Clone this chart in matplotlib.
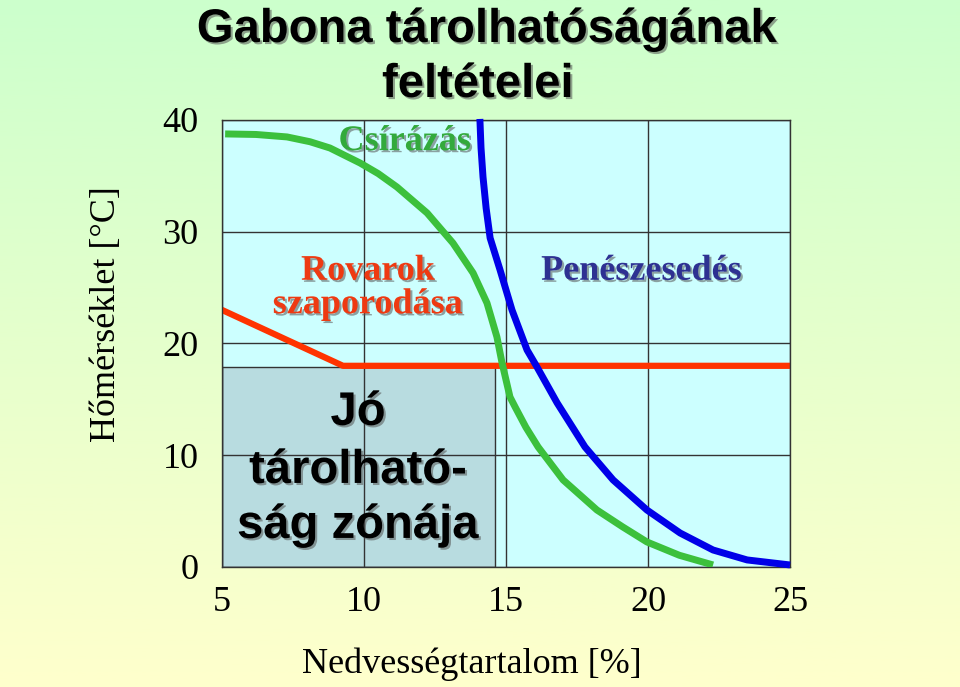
import numpy as np
import matplotlib.pyplot as plt
import matplotlib.patheffects as pe
from matplotlib.colors import LinearSegmentedColormap
from matplotlib.patches import Rectangle

plt.rcParams['font.family'] = ['Liberation Serif', 'DejaVu Serif']

# Rovarok szaporodása (alsó határ)
rovar_x = [5.0, 9.26, 25.0]
rovar_y = [23.0, 18.0, 18.0]

# Csírázás határa
csira_x = [5.11, 6.20, 7.29, 8.10, 8.80, 9.86, 10.50, 11.16, 12.22, 13.13, 13.84,
           14.33, 14.68, 14.86, 15.14, 15.32, 15.70, 16.13, 17.01, 18.20, 19.10,
           19.96, 21.10, 22.29]
csira_y = [38.75, 38.70, 38.48, 38.05, 37.49, 36.15, 35.20, 34.00, 31.68, 28.99, 26.31,
           23.62, 20.58, 18.26, 15.21, 14.32, 12.50, 10.74, 7.79, 5.10, 3.60,
           2.24, 1.05, 0.18]

# Penészesedés határa
penesz_x = [14.08, 14.12, 14.19, 14.30, 14.44, 14.79, 15.21, 15.74, 16.09, 16.80,
            17.78, 18.77, 19.96, 21.13, 22.29, 23.49, 25.00]
penesz_y = [40.09, 37.50, 34.90, 32.10, 29.44, 26.58, 23.00, 19.42, 17.90, 14.68,
            10.74, 7.79, 5.10, 3.04, 1.52, 0.63, 0.18]

# Jó tárolhatóság zónája
zona_x = [5.0, 14.6]
zona_y = [0.0, 17.9]

x_ticks = [5, 10, 15, 20, 25]
y_ticks = [0, 10, 20, 30, 40]

shadow = [pe.SimplePatchShadow(offset=(1.5, -1.5), shadow_rgbFace='#555555', alpha=0.55),
          pe.Normal()]

fig = plt.figure(figsize=(9.6, 6.87), dpi=100)

# háttér színátmenet
bg = fig.add_axes([0, 0, 1, 1], zorder=-10)
bg.axis('off')
cmap = LinearSegmentedColormap.from_list('bg', ['#ccffcc', '#ffffcc'])
bg.imshow(np.linspace(0, 1, 256).reshape(-1, 1), aspect='auto', cmap=cmap,
          extent=[0, 1, 0, 1])

ax = fig.add_axes([0.23125, 0.1747, 0.5917, 0.6507])
ax.set_facecolor('#ccffff')
ax.set_xlim(5, 25)
ax.set_ylim(0, 40)
ax.set_xticks(x_ticks)
ax.set_yticks(y_ticks)
ax.grid(True, color='#333333', lw=1.0)
ax.set_axisbelow('line')
ax.tick_params(axis='both', length=0, labelsize=26)
ax.tick_params(axis='y', pad=17)
ax.tick_params(axis='x', pad=14)
for s in ax.spines.values():
    s.set_color('#333333')
    s.set_linewidth(1.0)

ax.add_patch(Rectangle((zona_x[0], zona_y[0]), zona_x[1] - zona_x[0], zona_y[1] - zona_y[0],
                       facecolor='#b8dce0', edgecolor='#333333', lw=1.0, zorder=1))

ax.plot(rovar_x, rovar_y, color='#ff3300', lw=4.5, zorder=2)
ax.plot(csira_x, csira_y, color='#3cc03c', lw=5, zorder=3, solid_capstyle='butt',
        solid_joinstyle='round')
ax.plot(penesz_x, penesz_y, color='#0000e8', lw=5, zorder=4, solid_capstyle='butt',
        solid_joinstyle='round', clip_on=False)

# feliratok
ax.text(11.44, 37.3, 'Csírázás', color='#33aa3c', fontsize=26, fontweight='bold',
        ha='center', va='baseline', path_effects=shadow, zorder=5)
ax.text(10.14, 25.7, 'Rovarok', color='#ee3a12', fontsize=26, fontweight='bold',
        ha='center', va='baseline', path_effects=shadow, zorder=5)
ax.text(10.14, 22.7, 'szaporodása', color='#ee3a12', fontsize=26, fontweight='bold',
        ha='center', va='baseline', path_effects=shadow, zorder=5)
ax.text(19.77, 25.7, 'Penészesedés', color='#2e3192', fontsize=26, fontweight='bold',
        ha='center', va='baseline', path_effects=shadow, zorder=5)

for txt, yb in [('Jó', 12.71), ('tárolható-', 7.52), ('ság zónája', 2.60)]:
    ax.text(9.79, yb, txt, color='black', fontsize=34, fontweight='bold',
            family=['Liberation Sans', 'DejaVu Sans'], ha='center', va='baseline',
            path_effects=shadow, zorder=5)

fig.text(487 / 960, 1 - 42 / 687, 'Gabona tárolhatóságának', fontsize=34, fontweight='bold',
         family=['Liberation Sans', 'DejaVu Sans'], ha='center', va='baseline',
         path_effects=shadow)
fig.text(478 / 960, 1 - 97 / 687, 'feltételei', fontsize=34, fontweight='bold',
         family=['Liberation Sans', 'DejaVu Sans'], ha='center', va='baseline',
         path_effects=shadow)

fig.text(107 / 960, 1 - 314 / 687, 'Hőmérséklet [°C]', fontsize=26, rotation=90,
         ha='center', va='center')
fig.text(471.5 / 960, 1 - 673 / 687, 'Nedvességtartalom [%]', fontsize=26,
         ha='center', va='baseline')

fig.savefig('out.png', dpi=100)
